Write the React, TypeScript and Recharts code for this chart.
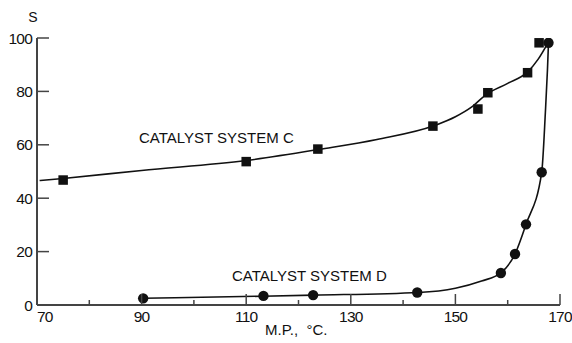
import React from 'react';
import {
  ComposedChart,
  Line,
  Scatter,
  XAxis,
  YAxis,
} from 'recharts';

// measured points, melting point (°C) vs S
const mpC = [75, 110, 123.7, 145.7, 154.3, 156.2, 163.8, 166.0];
const sC = [46.8, 53.7, 58.4, 67.0, 73.4, 79.5, 87.0, 98.2];
const mpD = [90.3, 113.3, 122.8, 142.7, 158.7, 161.4, 163.5, 166.5, 167.8];
const sD = [2.5, 3.4, 3.7, 4.7, 12.0, 19.1, 30.2, 49.7, 98.2];

// hand-drawn trend curves
const curveCmp = [70.5, 75, 90, 110, 124, 135, 146, 150, 153, 156, 160, 163.8, 165.8, 167.7];
const curveCs = [46.6, 47.4, 50.4, 54.1, 58.3, 62, 67.2, 70.5, 74, 79, 83, 87.3, 92, 98.2];
const curveDmp = [90.3, 113, 123, 143, 150, 155, 158.7, 161.4, 163.5, 166.5, 167.2, 167.6, 167.8];
const curveDs = [2.5, 3.3, 3.7, 4.7, 6.3, 9, 12, 19.1, 30.2, 49.7, 72, 88, 98.2];

const xTicks = [70, 80, 90, 100, 110, 120, 130, 140, 150, 160, 170];
const yTicks = [0, 20, 40, 60, 80, 100];

const zip = (xs: number[], ys: number[]) => xs.map((x, i) => ({ x, y: ys[i] }));

const pointsC = zip(mpC, sC);
const pointsD = zip(mpD, sD);
const lineC = zip(curveCmp, curveCs);
const lineD = zip(curveDmp, curveDs);

const INK = '#111';
const AXIS = '#444';
const FONT = '"Liberation Sans", Arial, sans-serif';

const XTick = ({ x, y, payload }: any) => {
  const v = payload.value;
  const major = (v - 70) % 20 === 0;
  return (
    <g>
      <line x1={x} y1={y} x2={x} y2={y - (major ? 11 : 5)} stroke={AXIS} strokeWidth={1.5} />
      {major && (
        <text
          x={x}
          y={y + 17}
          textAnchor={v === 70 ? 'start' : 'middle'}
          fontFamily={FONT}
          fontSize={15.5}
          letterSpacing={-0.8}
          fill={INK}
        >
          {v}
        </text>
      )}
    </g>
  );
};

const YTick = ({ x, y, payload }: any) => (
  <g>
    <line x1={x} y1={y} x2={x + 12} y2={y} stroke={AXIS} strokeWidth={1.5} />
    <text
      x={x - 5}
      y={y}
      dy={5.5}
      textAnchor="end"
      fontFamily={FONT}
      fontSize={15.5}
      letterSpacing={-0.8}
      fill={INK}
    >
      {payload.value}
    </text>
  </g>
);

const SquareMark = ({ cx, cy }: any) => (
  <rect x={cx - 4.75} y={cy - 4.75} width={9.5} height={9.5} fill={INK} />
);

const DotMark = ({ cx, cy }: any) => <circle cx={cx} cy={cy} r={5.2} fill={INK} />;

export default function App() {
  return (
    <div style={{ position: 'absolute', left: 0, top: 0, width: 572, height: 343, background: '#fff' }}>
      <ComposedChart
        width={572}
        height={343}
        margin={{ top: 38, right: 12, bottom: 0, left: 0 }}
      >
        <XAxis
          type="number"
          dataKey="x"
          domain={[70, 170]}
          ticks={xTicks}
          interval={0}
          height={38}
          tickSize={0}
          tickMargin={0}
          tickLine={false}
          axisLine={{ stroke: AXIS, strokeWidth: 2 }}
          tick={<XTick />}
          allowDataOverflow
        />
        <YAxis
          type="number"
          dataKey="y"
          domain={[0, 100]}
          ticks={yTicks}
          interval={0}
          width={37}
          tickSize={0}
          tickMargin={0}
          tickLine={false}
          axisLine={{ stroke: AXIS, strokeWidth: 2 }}
          tick={<YTick />}
          allowDataOverflow
        />
        <Line
          data={lineC}
          dataKey="y"
          type="monotone"
          stroke={INK}
          strokeWidth={1.6}
          dot={false}
          activeDot={false}
          isAnimationActive={false}
        />
        <Line
          data={lineD}
          dataKey="y"
          type="monotone"
          stroke={INK}
          strokeWidth={1.6}
          dot={false}
          activeDot={false}
          isAnimationActive={false}
        />
        <Scatter data={pointsC} dataKey="y" shape={<SquareMark />} isAnimationActive={false} />
        <Scatter data={pointsD} dataKey="y" shape={<DotMark />} isAnimationActive={false} />
      </ComposedChart>
      <svg
        width={572}
        height={343}
        style={{ position: 'absolute', left: 0, top: 0, pointerEvents: 'none' }}
      >
        <text x={33} y={22} textAnchor="middle" fontFamily={FONT} fontSize={14} fill={INK}>S</text>
        <text x={139} y={143} fontFamily={FONT} fontSize={15} fill={INK}>CATALYST SYSTEM C</text>
        <text x={232} y={281} fontFamily={FONT} fontSize={15} fill={INK}>CATALYST SYSTEM D</text>
        <text x={265} y={335} fontFamily={FONT} fontSize={15} fill={INK} xmlSpace="preserve">M.P.,  °C.</text>
      </svg>
    </div>
  );
}
